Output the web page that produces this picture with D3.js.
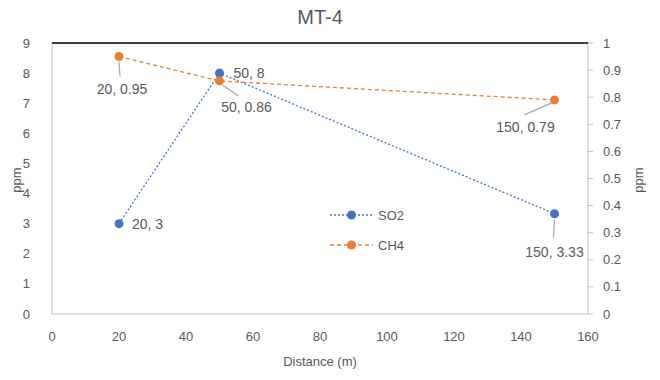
<!DOCTYPE html>
<html><head><meta charset="utf-8">
<script src="https://cdn.jsdelivr.net/npm/d3@7"></script>
<style>body{margin:0;background:#fff}text{font-family:"Liberation Sans",Arial,sans-serif;fill:#595959}</style>
</head><body><svg id="c" width="660" height="380"></svg>
<script>
const distance = [20, 50, 150];
const so2 = [3, 8, 3.33];
const ch4 = [0.95, 0.86, 0.79];
const xTicks = [0,20,40,60,80,100,120,140,160];
const yLeftTicks = [0,1,2,3,4,5,6,7,8,9];
const yRightTicks = [0,0.1,0.2,0.3,0.4,0.5,0.6,0.7,0.8,0.9,1];
const seriesNames = ["SO2","CH4"];
const colors = ["#4472C4","#ED7D31"];

const svg = d3.select("#c");
const L=52,R=588,T=43,B=314;
const x = d3.scaleLinear().domain([0,160]).range([L,R]);
const yL = d3.scaleLinear().domain([0,9]).range([B,T]);
const yR = d3.scaleLinear().domain([0,1]).range([B,T]);

svg.append("text").attr("x",320).attr("y",24).attr("text-anchor","middle").style("font-size","20px").text("MT-4");

// frame
svg.append("line").attr("x1",L).attr("x2",R).attr("y1",B).attr("y2",B).attr("stroke","#bfbfbf");
svg.append("line").attr("x1",L).attr("x2",L).attr("y1",T).attr("y2",B).attr("stroke","#bfbfbf");
svg.append("line").attr("x1",R).attr("x2",R).attr("y1",T).attr("y2",B).attr("stroke","#bfbfbf");
svg.append("g").selectAll("line").data(yRightTicks).join("line")
  .attr("x1",R).attr("x2",R+5).attr("y1",d=>yR(d)).attr("y2",d=>yR(d)).attr("stroke","#bfbfbf");
svg.append("line").attr("x1",L).attr("x2",R).attr("y1",T).attr("y2",T).attr("stroke","#000").attr("stroke-width",1.5);

// tick labels
const tfs="13px";
svg.append("g").selectAll("text").data(yLeftTicks).join("text")
  .attr("x",30).attr("y",d=>yL(d)+4.5).attr("text-anchor","end").style("font-size",tfs).text(d=>d);
svg.append("g").selectAll("text").data(yRightTicks).join("text")
  .attr("x",603).attr("y",d=>yR(d)+4.5).attr("text-anchor","start").style("font-size",tfs).text(d=>d);
svg.append("g").selectAll("text").data(xTicks).join("text")
  .attr("x",d=>x(d)).attr("y",341).attr("text-anchor","middle").style("font-size",tfs).text(d=>d);

svg.append("text").attr("x",320).attr("y",366).attr("text-anchor","middle").style("font-size",tfs).text("Distance (m)");
svg.append("text").attr("transform","translate(21,180) rotate(-90)").attr("text-anchor","middle").style("font-size",tfs).text("ppm");
svg.append("text").attr("transform","translate(643,180) rotate(-90)").attr("text-anchor","middle").style("font-size",tfs).text("ppm");

// series
const s1 = distance.map((d,i)=>[x(d),yL(so2[i])]);
const s2 = distance.map((d,i)=>[x(d),yR(ch4[i])]);
const line = d3.line();
svg.append("path").attr("d",line(s1)).attr("fill","none").attr("stroke",colors[0]).attr("stroke-width",1.3).attr("stroke-dasharray","2,2");
svg.append("path").attr("d",line(s2)).attr("fill","none").attr("stroke",colors[1]).attr("stroke-width",1.3).attr("stroke-dasharray","4,3");

// leader lines (offsets from data points)
const leaders = [
  [s2[0], [0,5], [1,20]],
  [s2[1], [3,4], [19,15]],
  [s2[2], [-3,3], [-30,15]],
  [s1[2], [0,6], [-1,24]]
];
svg.append("g").selectAll("line").data(leaders).join("line")
  .attr("x1",d=>d[0][0]+d[1][0]).attr("y1",d=>d[0][1]+d[1][1])
  .attr("x2",d=>d[0][0]+d[2][0]).attr("y2",d=>d[0][1]+d[2][1])
  .attr("stroke","#a6a6a6").attr("stroke-width",1.2);

svg.append("g").selectAll("circle").data(s1).join("circle").attr("cx",d=>d[0]).attr("cy",d=>d[1]).attr("r",4.5).attr("fill",colors[0]);
svg.append("g").selectAll("circle").data(s2).join("circle").attr("cx",d=>d[0]).attr("cy",d=>d[1]).attr("r",4.5).attr("fill",colors[1]);

// data labels
const fs="14px";
const lab = (p,dx,dy,anchor,t)=>svg.append("text").attr("x",p[0]+dx).attr("y",p[1]+dy).attr("text-anchor",anchor).style("font-size",fs).text(t);
lab(s1[0], 13, 5, "start", `${distance[0]}, ${so2[0]}`);
lab(s1[1], 14, 5, "start", `${distance[1]}, ${so2[1]}`);
lab(s1[2], 0, 43, "middle", `${distance[2]}, ${so2[2]}`);
lab(s2[0], 3, 37, "middle", `${distance[0]}, ${ch4[0]}`);
lab(s2[1], 27, 31, "middle", `${distance[1]}, ${ch4[1]}`);
lab(s2[2], -29, 32, "middle", `${distance[2]}, ${ch4[2]}`);

// legend
const lg = svg.append("g");
seriesNames.forEach((n,i)=>{
  const yy = 215 + i*30;
  lg.append("line").attr("x1",330).attr("x2",373).attr("y1",yy).attr("y2",yy).attr("stroke",colors[i]).attr("stroke-width",1.3).attr("stroke-dasharray",i?"4,3":"2,2");
  lg.append("circle").attr("cx",351.5).attr("cy",yy).attr("r",4.5).attr("fill",colors[i]);
  lg.append("text").attr("x",378).attr("y",yy+4.5).style("font-size",tfs).text(n);
});
</script></body></html>
